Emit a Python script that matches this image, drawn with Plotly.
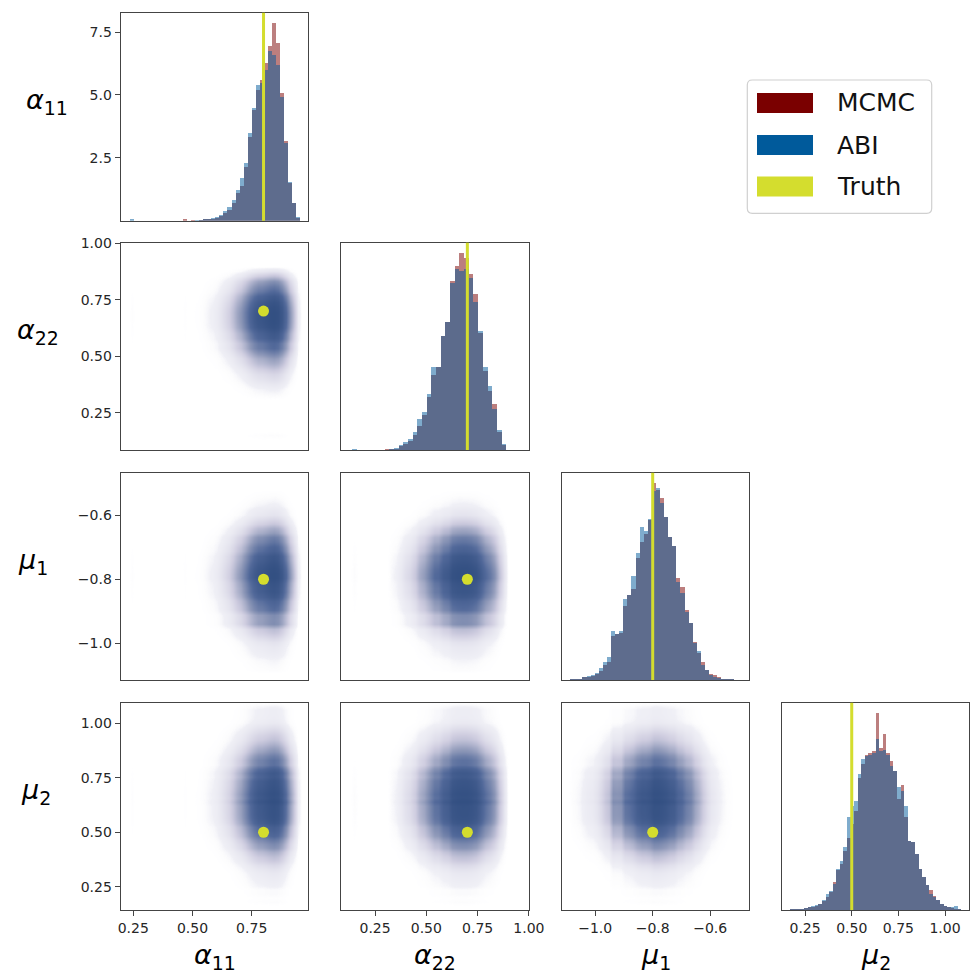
import numpy as np
import plotly.graph_objects as go

W, H = 979, 975

# ---------------- data ----------------
param_labels = ["<i>α</i><sub>11</sub>", "<i>α</i><sub>22</sub>",
                "<i>μ</i><sub>1</sub>", "<i>μ</i><sub>2</sub>"]
truth = [0.8, 0.7, -0.8, 0.5]

# histogram bin edges (start, width) per parameter
bin_start = [0.236, 0.137, -1.088, 0.170]
bin_width = [0.0171, 0.0228, 0.0142, 0.01915]

# density heights
mcmc_alpha11 = [0, 0, 0, 0, 0, 0, 0, 0, 0, 0, 0, 0, 0, 0.04, 0, 0.02, 0, 0.02, 0.04, 0.06,
                0.08, 0.12, 0.2, 0.3, 0.45, 0.7, 1.1, 1.4, 2.15, 3.35, 4.4, 5.2, 5.6, 6.3,
                6.95, 7.88, 7.06, 5.1, 3.2, 1.5, 0.7, 0.1]
abi_alpha11 = [0.05, 0, 0, 0, 0, 0, 0, 0, 0, 0, 0, 0, 0, 0, 0, 0, 0.03, 0.03, 0.05, 0.08,
               0.1, 0.15, 0.25, 0.4, 0.55, 0.85, 1.25, 1.7, 2.3, 3.5, 4.5, 5.4, 5.5, 6.0,
               6.75, 6.6, 6.2, 4.95, 3.1, 1.55, 0.7, 0.15]

mcmc_alpha22 = [0, 0, 0, 0, 0, 0, 0, 0.01, 0.03, 0.04, 0.09, 0.15, 0.21, 0.34, 0.56, 0.79,
                1.20, 1.69, 1.88, 2.59, 2.89, 3.83, 4.16, 4.46, 4.35, 3.98, 3.53, 2.66,
                1.80, 1.35, 1.05, 0.41, 0.11]
abi_alpha22 = [0.04, 0, 0, 0, 0, 0, 0, 0, 0.03, 0.06, 0.11, 0.19, 0.26, 0.41, 0.71, 0.86,
               1.28, 1.88, 1.88, 2.59, 2.89, 3.79, 4.09, 4.05, 4.09, 3.90, 3.34, 2.70,
               1.88, 1.46, 0.94, 0.45, 0.15]

mcmc_mu1 = [0.02, 0.03, 0.05, 0.08, 0.10, 0.12, 0.17, 0.27, 0.43, 0.53,
            1.25, 1.30, 1.34, 2.11, 2.40, 2.59, 3.46, 3.89, 4.13, 4.51,
            5.57, 5.38, 5.14, 4.61, 4.03, 3.79, 2.88, 2.64, 1.97, 1.63,
            1.08, 0.77, 0.53, 0.29, 0.19, 0.14, 0.08, 0.05, 0.03, 0.02]
abi_mu1 = [0.03, 0.04, 0.05, 0.08, 0.12, 0.14, 0.21, 0.34, 0.53, 0.67,
           1.39, 1.30, 1.39, 2.30, 2.40, 2.93, 3.60, 4.32, 4.22, 4.56,
           5.33, 5.42, 4.99, 4.61, 4.03, 3.79, 2.78, 2.45, 1.92, 1.63,
           1.06, 0.82, 0.43, 0.29, 0.14, 0.10, 0.06, 0.04, 0.02, 0.01]

mcmc_mu2 = [0.01, 0.01, 0.02, 0.02, 0.04, 0.05, 0.06, 0.07, 0.12, 0.16,
            0.24, 0.32, 0.50, 0.71, 0.82, 1.06, 1.29, 1.53, 1.76, 2.35,
            2.59, 2.76, 2.79, 2.82, 3.50, 2.88, 3.13, 2.79, 2.65, 2.47,
            1.97, 2.23, 1.65, 1.23, 1.21, 1.00, 0.74, 0.59, 0.44, 0.36,
            0.26, 0.18, 0.12, 0.07, 0.05, 0.04, 0.03, 0.03]
abi_mu2 = [0.02, 0.01, 0.02, 0.02, 0.04, 0.05, 0.07, 0.09, 0.11, 0.18,
           0.29, 0.35, 0.47, 0.74, 0.88, 1.12, 1.65, 1.85, 1.94, 2.41,
           2.68, 2.73, 2.76, 2.79, 3.03, 2.82, 2.85, 2.76, 2.56, 2.47,
           2.18, 2.12, 1.85, 1.23, 1.21, 1.00, 0.74, 0.59, 0.44, 0.29,
           0.24, 0.18, 0.12, 0.07, 0.06, 0.06, 0.07, 0.03]

mcmc = [mcmc_alpha11, mcmc_alpha22, mcmc_mu1, mcmc_mu2]
abi = [abi_alpha11, abi_alpha22, abi_mu1, abi_mu2]

# axis ranges
col_range = [[0.197, 0.989], [0.084, 1.002], [-1.1165, -0.464], [0.128, 1.130]]
row_range = [None, [0.085, 1.003], [-1.114, -0.468], [0.1436, 1.094]]
hist1_ymax = 8.27

col_ticks = [[0.25, 0.50, 0.75], [0.25, 0.50, 0.75, 1.00], [-1.0, -0.8, -0.6], [0.25, 0.50, 0.75, 1.00]]
col_ticktext = [["0.25", "0.50", "0.75"], ["0.25", "0.50", "0.75", "1.00"],
                ["−1.0", "−0.8", "−0.6"], ["0.25", "0.50", "0.75", "1.00"]]
hist1_ticks = [2.5, 5.0, 7.5]
hist1_ticktext = ["2.5", "5.0", "7.5"]

# ---------------- styling ----------------
C_MCMC = "#7a0000"
C_ABI = "#005a9b"
C_TRUTH = "#d4dd2e"
FRAME = "#444444"
TICKFONT = dict(family="DejaVu Sans", size=14, color="#262626")

colx = [(120.7, 308.3), (341.0, 529.3), (561.7, 749.3), (782.3, 969.3)]
rowy = [(12.7, 220.7), (242.7, 450.0), (472.7, 680.0), (702.7, 910.0)]


def xd(a, b):
    return [a / W, b / W]


def yd(t, b):
    return [1 - b / H, 1 - t / H]


centers = [[bin_start[k] + bin_width[k] * (i + 0.5) for i in range(len(mcmc[k]))] for k in range(4)]


def padded(k):
    """bin centres and mean marginal with an empty bin added at each end"""
    cs = [centers[k][0] - bin_width[k]] + centers[k] + [centers[k][-1] + bin_width[k]]
    m = (np.array(mcmc[k]) + np.array(abi[k])) / 2
    m = np.concatenate([[0.0], m / m.max(), [0.0]])
    return cs, m


fig = go.Figure()
layout = {}
shapes = []
n = 0
for r in range(4):
    for c in range(r + 1):
        n += 1
        sfx = "" if n == 1 else str(n)
        xa, ya = f"x{sfx}", f"y{sfx}"
        xkey, ykey = f"xaxis{sfx}", f"yaxis{sfx}"
        show_x = (r == 3)
        xaxis = dict(domain=xd(*colx[c]), anchor=ya, range=col_range[c], automargin=False,
                     showline=True, mirror=True, linecolor=FRAME, linewidth=1.2,
                     showgrid=False, zeroline=False, fixedrange=True)
        yaxis = dict(domain=yd(*rowy[r]), anchor=xa, showline=True, mirror=True, automargin=False,
                     linecolor=FRAME, linewidth=1.2, showgrid=False, zeroline=False, fixedrange=True)
        if show_x:
            xaxis.update(ticks="outside", ticklen=5, tickcolor=FRAME, tickvals=col_ticks[c],
                         ticktext=col_ticktext[c], tickfont=TICKFONT, showticklabels=True)
        else:
            xaxis.update(ticks="", showticklabels=False)
        if r == c:
            ymax = hist1_ymax if r == 0 else max(max(mcmc[r]), max(abi[r])) * 1.05
            yaxis.update(range=[0, ymax])
            if r == 0:
                yaxis.update(ticks="outside", ticklen=5, tickcolor=FRAME, tickvals=hist1_ticks,
                             ticktext=hist1_ticktext, tickfont=TICKFONT)
            else:
                yaxis.update(ticks="", showticklabels=False)
            fig.add_trace(go.Bar(x=centers[r], y=mcmc[r], width=bin_width[r], marker_color=C_MCMC,
                                 marker_line_width=0, opacity=0.5, xaxis=xa, yaxis=ya, hoverinfo="skip"))
            fig.add_trace(go.Bar(x=centers[r], y=abi[r], width=bin_width[r], marker_color=C_ABI,
                                 marker_line_width=0, opacity=0.5, xaxis=xa, yaxis=ya, hoverinfo="skip"))
            shapes.append(dict(type="line", xref=xa, yref=f"{ya} domain", x0=truth[r], x1=truth[r],
                               y0=0, y1=1, line=dict(color=C_TRUTH, width=3)))
        else:
            yaxis.update(range=row_range[r])
            if c == 0:
                yaxis.update(ticks="outside", ticklen=5, tickcolor=FRAME, tickvals=col_ticks[r],
                             ticktext=col_ticktext[r], tickfont=TICKFONT)
            else:
                yaxis.update(ticks="", showticklabels=False)
            cxs, mx = padded(c)
            cys, my = padded(r)
            z = np.outer(my, mx)
            zz = 1 - np.exp(-3.0 * z)
            fig.add_trace(go.Heatmap(x=cxs, y=cys, z=zz, zmin=0, zmax=1,
                                     zsmooth="best", showscale=False, hoverinfo="skip",
                                     colorscale=[[0, "rgba(255,255,255,0)"], [0.03, "rgba(240,240,246,1)"],
                                                 [0.2, "#cfcde0"], [0.45, "#8f99b9"],
                                                 [0.72, "#52699a"], [1, "#2c4a7d"]],
                                     xaxis=xa, yaxis=ya))
            fig.add_trace(go.Scatter(x=[truth[c]], y=[truth[r]], mode="markers",
                                     marker=dict(color=C_TRUTH, size=11), xaxis=xa, yaxis=ya,
                                     hoverinfo="skip"))
        layout[xkey] = xaxis
        layout[ykey] = yaxis

# axis labels
annotations = []
LABFONT = dict(family="DejaVu Sans", size=27, color="black")
left_right_edge = [70, 61, 50, 53]
for r in range(4):
    cy = (rowy[r][0] + rowy[r][1]) / 2 - 15
    annotations.append(dict(text=param_labels[r], xref="paper", yref="paper",
                            x=left_right_edge[r] / W, y=1 - cy / H, xanchor="right", yanchor="middle",
                            showarrow=False, font=LABFONT))
for c in range(4):
    cx = (colx[c][0] + colx[c][1]) / 2
    annotations.append(dict(text=param_labels[c], xref="paper", yref="paper",
                            x=cx / W, y=0, xanchor="center", yanchor="bottom",
                            showarrow=False, font=LABFONT, borderpad=0))

# legend (drawn manually to match the wide patches)
legend_names = ["MCMC", "ABI", "Truth"]
legend_colors = [C_MCMC, C_ABI, C_TRUTH]
bx0, bx1, by0, by1, rad = 747.3, 931.7, 80.0, 213.3, 5


def px(x):
    return x / W


def py(y):
    return 1 - y / H


path = (f"M {px(bx0+rad)} {py(by0)} L {px(bx1-rad)} {py(by0)} Q {px(bx1)} {py(by0)} {px(bx1)} {py(by0+rad)} "
        f"L {px(bx1)} {py(by1-rad)} Q {px(bx1)} {py(by1)} {px(bx1-rad)} {py(by1)} "
        f"L {px(bx0+rad)} {py(by1)} Q {px(bx0)} {py(by1)} {px(bx0)} {py(by1-rad)} "
        f"L {px(bx0)} {py(by0+rad)} Q {px(bx0)} {py(by0)} {px(bx0+rad)} {py(by0)} Z")
shapes.append(dict(type="path", xref="paper", yref="paper", path=path,
                   line=dict(color="#d0d0d0", width=1.2), fillcolor="rgba(255,255,255,0.9)"))
ycent = [103.0, 145.0, 186.5]
for name, col, yc in zip(legend_names, legend_colors, ycent):
    shapes.append(dict(type="rect", xref="paper", yref="paper", x0=px(757), x1=px(813),
                       y0=py(yc + 10), y1=py(yc - 10), fillcolor=col, line=dict(width=0)))
    annotations.append(dict(text=name, xref="paper", yref="paper", x=px(835), y=py(yc),
                            xanchor="left", yanchor="middle", showarrow=False,
                            font=dict(family="DejaVu Sans", size=25, color="#111111")))

fig.update_layout(template="none", width=W, height=H, autosize=False,
                  margin=dict(l=0, r=0, t=0, b=0, pad=0),
                  paper_bgcolor="white", plot_bgcolor="white", showlegend=False,
                  barmode="overlay", bargap=0, shapes=shapes, annotations=annotations, **layout)

fig.write_html("out.html", include_plotlyjs=True,
               config={"displayModeBar": False, "responsive": False},
               post_script="document.body.style.margin='0';document.body.style.overflow='hidden';")
